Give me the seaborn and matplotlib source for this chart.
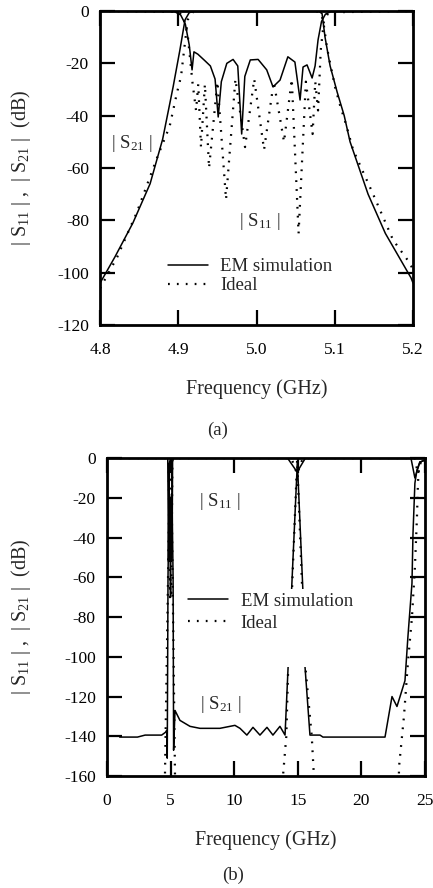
import numpy as np
import pandas as pd
import matplotlib
matplotlib.use("Agg")
import matplotlib.pyplot as plt
import matplotlib.transforms as mtransforms
from matplotlib.patches import Rectangle
import seaborn as sns

# ---------------- data (a): narrow-band view ----------------
a_em_s21_f = [4.800, 4.819, 4.842, 4.864, 4.880, 4.8934, 4.902, 4.9086, 4.914, 4.920,
              5.080, 5.0837, 5.0875, 5.094, 5.103, 5.112, 5.1195, 5.1425, 5.1646, 5.1974, 5.200]
a_em_s21_db = [-104, -94, -81, -66, -49, -29, -15, -3.4, -0.6, -0.2,
               -0.2, -1, -10, -21, -31, -40, -50, -70, -85, -102, -104]

a_em_s11_f = [4.800, 4.895, 4.903, 4.909, 4.914, 4.9176, 4.920, 4.925, 4.934, 4.941,
              4.947, 4.951, 4.955, 4.962, 4.970, 4.976, 4.981, 4.985, 4.992, 5.002,
              5.013, 5.021, 5.030, 5.040, 5.049, 5.0556, 5.0594, 5.0645, 5.071, 5.0748,
              5.0786, 5.083, 5.088, 5.095, 5.200]
a_em_s11_db = [0, -0.2, -1.5, -5, -13, -22.5, -15.6, -16.5, -19, -21,
               -26, -40.5, -27, -20, -18.5, -21, -47, -25, -18.7, -18.5,
               -22.5, -29, -26.4, -17.5, -19.5, -34, -21.4, -20.6, -25.6, -21,
               -11, -4, -1.2, -0.2, 0]

a_id_s21_f = [4.800, 4.822, 4.847, 4.873, 4.889, 4.8985, 4.9035, 4.907, 4.912, 4.918, 4.925,
              5.075, 5.081, 5.085, 5.090, 5.094, 5.1003, 5.1067, 5.114, 5.1233, 5.1489,
              5.1744, 5.1962, 5.200]
a_id_s21_db = [-106, -94, -77, -56, -44, -31, -25, -16, -3.4, -0.5, 0,
               0, -0.5, -3.4, -14, -20, -29, -36, -43, -53, -70,
               -87.5, -96.5, -99]

a_id_s11_f = [4.800, 4.900, 4.906, 4.912, 4.918, 4.9227, 4.9255, 4.929, 4.934, 4.9393,
              4.950, 4.961, 4.973, 4.9853, 4.997, 5.0096, 5.022, 5.0351, 5.045, 5.0537,
              5.063, 5.0716, 5.075, 5.0786, 5.082, 5.086, 5.092, 5.200]
a_id_s11_db = [0, -0.3, -2, -9, -27, -38, -28, -52, -28, -60,
               -27, -72, -26, -52, -26, -53, -27, -50, -26, -85,
               -27, -47, -27, -38, -15, -4, -0.5, 0]

# ---------------- data (b): wide-band view ----------------
b_em_s21_f = [1.0, 2.4, 3.0, 4.3, 4.6, 4.70, 4.74, 4.80, 4.92, 5.0, 5.08, 5.20, 5.24,
              5.35, 5.74, 6.53, 7.31, 8.88, 9.67, 10.06, 10.46, 11.0, 11.48, 12.03,
              12.58, 13.05, 13.6, 14.0, 14.97, 15.4, 15.57, 15.96, 16.75, 16.98, 21.86,
              22.41, 22.8, 23.43, 23.66, 23.98, 24.06, 24.21, 24.37, 24.6, 25.0]
b_em_s21_db = [-140.4, -140.4, -139.4, -139.4, -138, -137, -151, -60, -3, 0, -3, -60, -147,
               -127, -132, -135, -136, -136, -135, -134.5, -136, -139.4, -135.5, -139.4,
               -135.5, -139.4, -135, -139.4, -2, -66, -105, -139.4, -139.4, -140.4, -140.4,
               -120, -125, -112, -90, -63, -38, -12.6, -6, -2, -1]

b_em_s11_f = [1.0, 4.78, 4.84, 4.88, 4.92, 4.95, 4.98, 5.0, 5.02, 5.05, 5.08, 5.12, 5.16, 5.22,
              14.2, 14.95, 15.6, 23.9, 24.21, 24.6, 25.0]
b_em_s11_db = [0, 0, -52, -3, -45, -20, -50, -70, -30, -52, -18, -48, -2, 0,
               0, -7, 0, 0, -10, -2, -1]

b_id_s21_f = [1.0, 4.5, 4.56, 4.95, 5.05, 5.35, 5.4, 13.7, 13.84, 14.1, 14.25, 14.55, 14.95,
              15.35, 15.6, 16.1, 16.27, 16.4, 22.8, 22.96, 23.35, 23.66, 23.98, 24.21,
              24.37, 24.45, 24.53, 24.7, 25.0]
b_id_s21_db = [-250, -250, -160, 0, 0, -160, -250, -250, -160, -140, -105, -66, -1,
               -66, -105, -140, -160, -250, -250, -155.5, -130, -103, -80, -55,
               -30, -12.6, -4.5, -1, -0.5]

b_id_s11_f = [1.0, 4.85, 4.95, 5.0, 5.05, 5.15, 14.5, 14.95, 15.4, 24.2, 24.45, 24.7, 25.0]
b_id_s11_db = [0, 0, -70, -60, -70, 0, 0, -8, 0, 0, -8, -1, 0]

a_xticks = [4.8, 4.9, 5.0, 5.1, 5.2]
a_yticks = [0, -20, -40, -60, -80, -100, -120]
b_xticks = [0, 5, 10, 15, 20, 25]
b_yticks = [0, -20, -40, -60, -80, -100, -120, -140, -160]
legend_labels = ["EM simulation", "Ideal"]

# ---------------- style ----------------
sns.set_theme(style="ticks")
plt.rcParams['font.family'] = ['Liberation Serif', 'DejaVu Serif']
plt.rcParams['mathtext.fontset'] = 'custom'
plt.rcParams['mathtext.rm'] = 'Liberation Serif'
plt.rcParams['mathtext.it'] = 'Liberation Serif:italic'
plt.rcParams['mathtext.default'] = 'rm'
plt.rcParams['axes.unicode_minus'] = False

FS = 12.5       # tick labels
FS_T = 13.5     # legend / annotations
FS_L = 14.5     # axis labels
SOLID_LW = 1.1
DOT_LW = 1.6
DOT = (0, (0.8, 3.2))

fig = plt.figure(figsize=(4.33, 8.88), dpi=100)
ax1 = fig.add_axes([0.231, 0.634, 0.723, 0.3536])
ax2 = fig.add_axes([0.247, 0.1261, 0.7344, 0.358])


def draw(ax, f, db, dotted):
    df = pd.DataFrame({"f": f, "db": db})
    sns.lineplot(data=df, x="f", y="db", ax=ax, sort=False, estimator=None,
                 color="black", lw=DOT_LW if dotted else SOLID_LW,
                 linestyle=DOT if dotted else "-", legend=False)
    return ax.lines[-1]


def style(ax, xticks, yticks, xlim, ylim, xfmt, label_x):
    ax.set_xlim(*xlim)
    ax.set_ylim(*ylim)
    ax.set_xticks(xticks)
    ax.set_xticklabels([xfmt.format(v) for v in xticks])
    ax.set_yticks(yticks)
    ax.set_yticklabels([str(v) for v in yticks])
    for s in ax.spines.values():
        s.set_visible(True)
        s.set_linewidth(2.0)
        s.set_color("black")
    ax.tick_params(direction="in", length=11, width=1.6, top=True, right=True,
                   labelsize=FS, colors="black")
    ax.tick_params(axis="x", pad=12)
    ax.tick_params(axis="y", pad=8)
    ax.set_xlabel("Frequency (GHz)", fontsize=FS_L)
    ax.set_ylabel("| S$_{11}$ | ,  | S$_{21}$ |  (dB)", fontsize=FS_L)
    ax.xaxis.set_label_coords(0.5, -0.172)
    ax.yaxis.set_label_coords(label_x, 0.5)
    ax.set_facecolor("white")


# panel (a)
draw(ax1, a_em_s11_f, a_em_s11_db, False)
h_em = draw(ax1, a_em_s21_f, a_em_s21_db, False)
draw(ax1, a_id_s11_f, a_id_s11_db, True)
h_id = draw(ax1, a_id_s21_f, a_id_s21_db, True)
style(ax1, a_xticks, a_yticks, (4.8, 5.2), (-120, 0), "{:.1f}", -0.215)
ax1.text(4.841, -50.5, "| S$_{21}$ |", fontsize=FS_T, ha="center", va="center")
ax1.text(5.0045, -80.6, "| S$_{11}$ |", fontsize=FS_T, ha="center", va="center")
ax1.legend([h_em, h_id], legend_labels, loc="upper left", bbox_to_anchor=(0.217, 0.213),
           frameon=False, fontsize=FS_T, handlelength=2.15, handletextpad=0.65,
           labelspacing=0.1, borderpad=0, borderaxespad=0)

# panel (b)
draw(ax2, b_em_s11_f, b_em_s11_db, False)
h_em2 = draw(ax2, b_em_s21_f, b_em_s21_db, False)
draw(ax2, b_id_s11_f, b_id_s11_db, True)
h_id2 = draw(ax2, b_id_s21_f, b_id_s21_db, True)
style(ax2, b_xticks, b_yticks, (0, 25), (-160, 0), "{:d}", -0.232)
ax2.text(8.88, -22, "| S$_{11}$ |", fontsize=FS_T, ha="center", va="center")
ax2.text(8.96, -124, "| S$_{21}$ |", fontsize=FS_T, ha="center", va="center")
blend = mtransforms.blended_transform_factory(ax2.transAxes, ax2.transData)
ax2.add_patch(Rectangle((0.22, -105), 0.63, 39, transform=blend,
                        facecolor="white", edgecolor="none", zorder=3))
leg2 = ax2.legend([h_em2, h_id2], legend_labels, loc="upper left",
                  bbox_to_anchor=(0.255, 0.577), frameon=False, fontsize=FS_T,
                  handlelength=2.15, handletextpad=0.65, labelspacing=0.27,
                  borderpad=0, borderaxespad=0)
leg2.set_zorder(5)

fig.text(218 / 433, 1 - 430 / 888, "(a)", fontsize=FS_T, ha="center", va="center")
fig.text(233 / 433, 1 - 875 / 888, "(b)", fontsize=FS_T, ha="center", va="center")

fig.savefig("out.png", dpi=100, facecolor="white")
